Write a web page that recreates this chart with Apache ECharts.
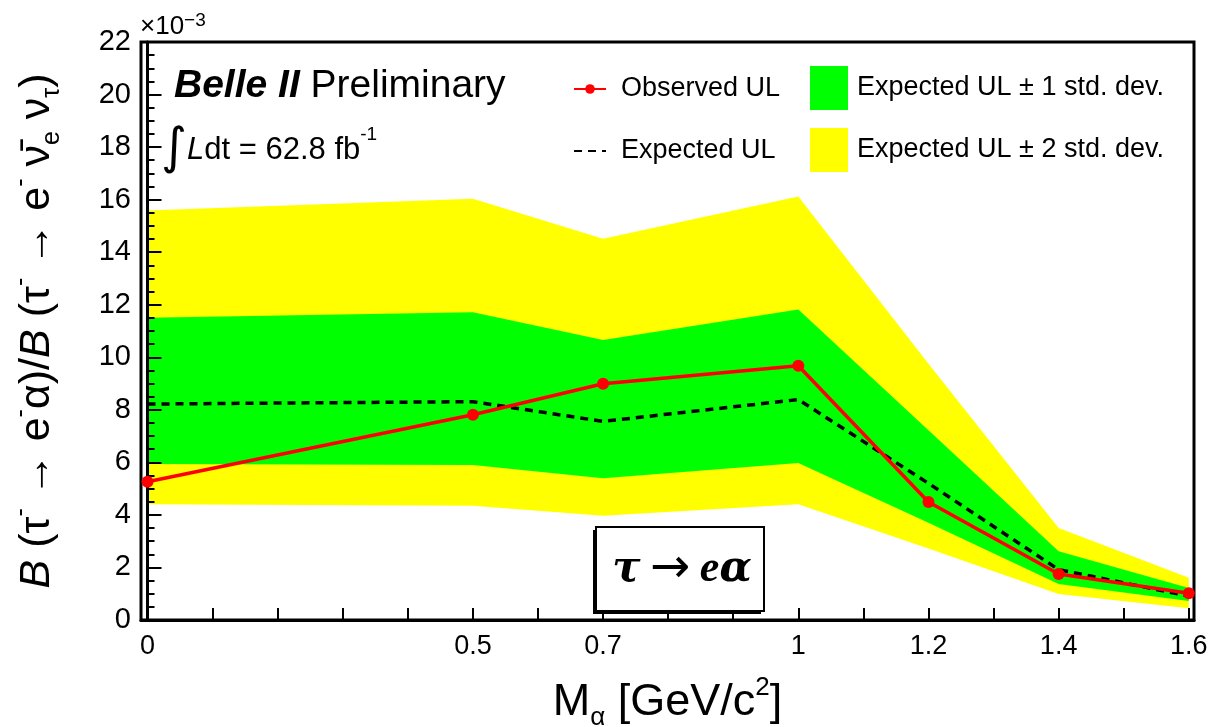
<!DOCTYPE html>
<html>
<head>
<meta charset="utf-8">
<script src="https://cdn.jsdelivr.net/npm/echarts@6/dist/echarts.min.js"></script>
<style>
html,body{margin:0;padding:0;background:#fff;}
#chart{width:1210px;height:727px;}
</style>
</head>
<body>
<div id="chart"></div>
<script>
// ---- data (values in units of 1e-3) ----
const massPoints   = [0, 0.5, 0.7, 1.0, 1.2, 1.4, 1.6];
const observedUL   = [5.26, 7.81, 8.99, 9.68, 4.49, 1.75, 1.02];
const expectedUL   = [8.22, 8.31, 7.56, 8.39, 5.2, 1.92, 0.91];
const sigma1Low    = [5.94, 5.90, 5.40, 5.98, 3.70, 1.37, 0.72];
const sigma1High   = [11.50, 11.71, 10.66, 11.82, 7.22, 2.62, 1.22];
const sigma2Low    = [4.41, 4.35, 3.97, 4.41, 2.72, 0.99, 0.45];
const sigma2High   = [15.59, 16.03, 14.51, 16.12, 9.75, 3.50, 1.61];
const xTickValues  = [0,0.1,0.2,0.3,0.4,0.5,0.6,0.7,0.8,0.9,1.0,1.1,1.2,1.3,1.4,1.5,1.6];
const xLabelValues = [0, 0.5, 0.7, 1, 1.2, 1.4, 1.6];

const FONT = '"Liberation Sans", Arial, Helvetica, sans-serif';
const chart = echarts.init(document.getElementById('chart'));

function band(name, lo, hi, color) {
  return {
    type: 'custom',
    name: name,
    coordinateSystem: 'cartesian2d',
    data: massPoints.map((x, i) => [x, lo[i], hi[i]]),
    encode: { x: 0, y: [1, 2] },
    itemStyle: { color: color },
    silent: true,
    z: 1,
    renderItem: function (params, api) {
      if (params.dataIndex !== 0) return null;
      const pts = [];
      for (let i = 0; i < massPoints.length; i++) pts.push(api.coord([massPoints[i], hi[i]]));
      for (let i = massPoints.length - 1; i >= 0; i--) pts.push(api.coord([massPoints[i], lo[i]]));
      return { type: 'polygon', shape: { points: pts }, style: { fill: color } };
    }
  };
}

const option = {
  animation: false,
  backgroundColor: '#fff',
  grid: {
    left: 141, right: 16, top: 42, bottom: 107,
    outerBoundsMode: 'none',
    containLabel: false,
    show: true, borderColor: '#000', borderWidth: 3, backgroundColor: 'transparent'
  },
  xAxis: {
    type: 'value', min: -0.01, max: 1.608,
    z: 3,
    axisLine: { show: true, onZero: false, lineStyle: { color: '#000', width: 3 } },
    axisTick: { show: true, inside: true, length: 12, customValues: xTickValues, lineStyle: { color: '#000', width: 2 } },
    axisLabel: { customValues: xLabelValues, fontSize: 27, fontFamily: FONT, color: '#000', margin: 13 },
    splitLine: { show: false },
    name: 'M{sb|α} [GeV/c{sp|2}]',
    nameLocation: 'middle',
    nameGap: 55,
    nameTextStyle: {
      fontSize: 45, fontFamily: FONT, color: '#000', lineHeight: 56,
      rich: {
        sp: { fontSize: 26, verticalAlign: 'top', lineHeight: 26, fontFamily: FONT, color: '#000' },
        sb: { fontSize: 26, verticalAlign: 'bottom', lineHeight: 26, fontFamily: FONT, color: '#000' }
      }
    }
  },
  yAxis: {
    type: 'value', min: 0, max: 22, interval: 2,
    z: 3,
    axisLine: { show: true, lineStyle: { color: '#000', width: 3 } },
    axisTick: { show: true, inside: true, length: 14, lineStyle: { color: '#000', width: 2 } },
    minorTick: { show: true, splitNumber: 4, length: 7, lineStyle: { color: '#000', width: 2 } },
    axisLabel: { fontSize: 29, fontFamily: FONT, color: '#000', margin: 10 },
    splitLine: { show: false },
    name: '{i|B} (τ{sp|-} → e{sp|-}α)/{i|B} (τ{sp|-} → e{sp|-} ν̄{sb|e} ν{sb|τ})',
    nameLocation: 'middle',
    nameRotate: 90,
    nameGap: 76,
    nameTextStyle: {
      fontSize: 43, fontFamily: FONT, color: '#000', lineHeight: 56,
      rich: {
        i: { fontStyle: 'italic', fontSize: 43, lineHeight: 56, fontFamily: FONT, color: '#000' },
        sp: { fontSize: 25, verticalAlign: 'top', lineHeight: 25, fontFamily: FONT, color: '#000' },
        sb: { fontSize: 25, verticalAlign: 'bottom', lineHeight: 25, fontFamily: FONT, color: '#000' }
      }
    }
  },
  legend: [
    {
      data: ['Observed UL', { name: 'Expected UL', itemStyle: { opacity: 0 } }],
      orient: 'vertical', left: 573, top: 75, padding: 0,
      itemWidth: 32, itemHeight: 12, itemGap: 34,
      selectedMode: false,
      textStyle: { fontSize: 27, fontFamily: FONT, color: '#000', lineHeight: 28, padding: [0, 0, 0, 10] }
    },
    {
      data: [
        { name: 'Expected UL ± 1 std. dev.', icon: 'rect' },
        { name: 'Expected UL ± 2 std. dev.', icon: 'rect' }
      ],
      orient: 'vertical', left: 810, top: 66, padding: 0,
      itemWidth: 38, itemHeight: 44, itemGap: 18,
      selectedMode: false,
      textStyle: { fontSize: 27, fontFamily: FONT, color: '#000', padding: [0, 0, 0, 4] }
    }
  ],
  series: [
    band('Expected UL ± 2 std. dev.', sigma2Low, sigma2High, '#ffff00'),
    band('Expected UL ± 1 std. dev.', sigma1Low, sigma1High, '#00ff00'),
    {
      type: 'line', name: 'Expected UL',
      data: massPoints.map((x, i) => [x, expectedUL[i]]),
      symbol: 'none',
      lineStyle: { color: '#000', width: 3.5, type: [8, 6] },
      itemStyle: { color: '#000' },
      z: 4, silent: true
    },
    {
      type: 'line', name: 'Observed UL',
      data: massPoints.map((x, i) => [x, observedUL[i]]),
      symbol: 'circle', symbolSize: 12,
      lineStyle: { color: '#ff0000', width: 3.5 },
      itemStyle: { color: '#ff0000' },
      z: 5, silent: true
    }
  ],
  graphic: [
    {
      type: 'text', left: 140, top: 11, z: 10,
      style: {
        text: '×10{sp|−3}',
        font: '26px ' + FONT, fill: '#000', lineHeight: 32,
        rich: { sp: { fontSize: 19, verticalAlign: 'top', lineHeight: 19, fontFamily: FONT, fill: '#000' } }
      }
    },
    {
      type: 'text', left: 174, top: 67, z: 10,
      style: {
        text: '{b|Belle II} Preliminary',
        font: '39px ' + FONT, fill: '#000',
        rich: { b: { fontWeight: 'bold', fontStyle: 'italic', fontSize: 39, fontFamily: FONT, fill: '#000' } }
      }
    },
    {
      type: 'text', left: 161, top: 125, z: 10,
      style: {
        text: '{int|∫}{l|L}dt = 62.8 fb{sp|-1}',
        font: '31px ' + FONT, fill: '#000', lineHeight: 50,
        rich: {
          int: { fontSize: 50, fontFamily: '"DejaVu Sans", ' + FONT, lineHeight: 50, fill: '#000' },
          l: { fontStyle: 'italic', fontSize: 31, fontFamily: FONT, fill: '#000' },
          sp: { fontSize: 19, verticalAlign: 'top', lineHeight: 34, fontFamily: FONT, fill: '#000' }
        }
      }
    },
    {
      type: 'rect', z: 10,
      shape: { x: 593, y: 530, width: 168, height: 84 },
      style: { fill: '#000' }
    },
    {
      type: 'rect', z: 10,
      shape: { x: 596, y: 527, width: 168, height: 84 },
      style: { fill: '#fff', stroke: '#000', lineWidth: 2 }
    },
    {
      type: 'text', z: 11, x: 682, y: 570,
      style: {
        text: '{t|τ}{s| }{a|→}{s| }{e|e}{t|α}',
        font: '40px "DejaVu Serif", serif', fill: '#000',
        align: 'center', verticalAlign: 'middle',
        rich: {
          t: { fontWeight: 'bold', fontStyle: 'italic', fontSize: 42, fontFamily: '"DejaVu Serif", serif', fill: '#000' },
          s: { fontSize: 30, fontFamily: '"DejaVu Sans", sans-serif', fill: '#000' },
          a: { fontSize: 48, fontFamily: '"DejaVu Sans", sans-serif', fill: '#000' },
          e: { fontWeight: 'bold', fontStyle: 'italic', fontSize: 44, fontFamily: '"Liberation Serif", serif', fill: '#000' }
        }
      }
    }
  ]
};
chart.setOption(option);
</script>
</body>
</html>
